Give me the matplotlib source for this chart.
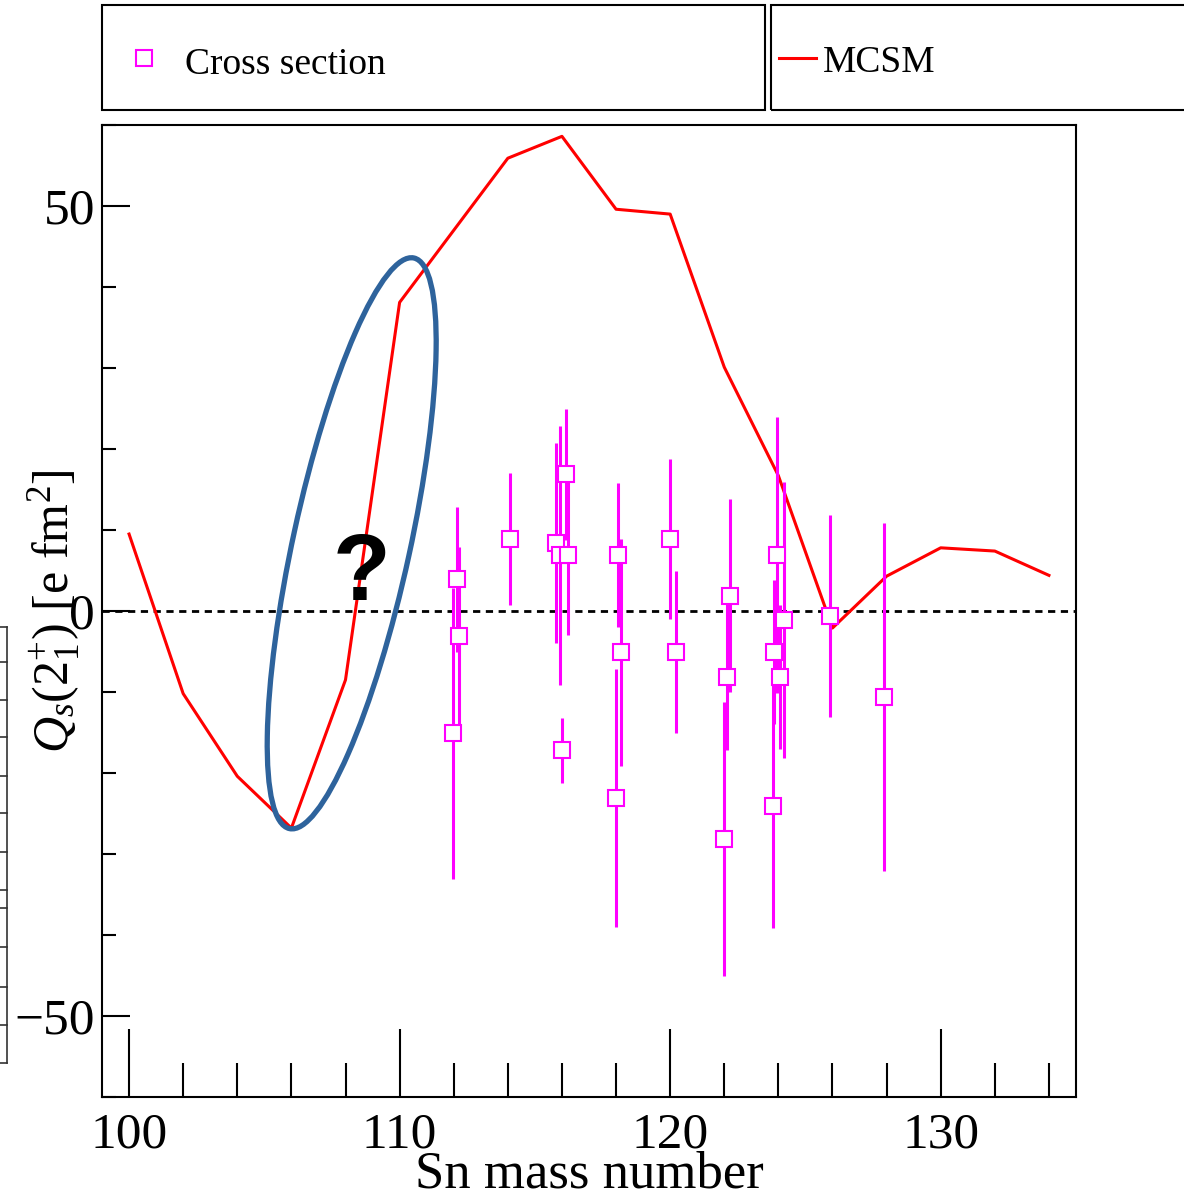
import matplotlib
matplotlib.use('Agg')
import matplotlib.pyplot as plt
from matplotlib.patches import Ellipse, Rectangle
from matplotlib.lines import Line2D
from matplotlib.ticker import MultipleLocator

# ---------------- data ----------------
mcsm_A = [100, 102, 104, 106, 108, 110, 112, 114, 116, 118, 120, 122, 124, 126, 128, 130, 132, 134]
mcsm_Q = [9.5, -10.2, -20.4, -26.8, -8.5, 38.1, 47.0, 55.9, 58.6, 49.6, 49.0, 30.1, 16.7, -2.1, 4.3, 7.8, 7.4, 4.4]

cs_A = [111.96, 112.11, 112.19,
        114.07,
        115.78, 116.15, 115.93, 116.22, 116.0,
        118.07, 118.19, 118.0,
        120.0, 120.22,
        122.22, 122.11, 122.0,
        123.96, 124.22, 123.85, 124.07, 123.8,
        125.89,
        127.89]
cs_Q = [-15.1, 3.9, -3.1,
        8.9,
        8.4, 16.9, 6.9, 6.9, -17.2,
        6.9, -5.1, -23.1,
        8.9, -5.1,
        1.9, -8.1, -28.1,
        6.9, -1.1, -5.1, -8.1, -24.1,
        -0.65,
        -10.6]
cs_err = [18.0, 9.0, 11.0,
          8.1,
          12.4, 8.1, 16.0, 9.9, 4.0,
          8.9, 14.0, 15.9,
          9.9, 10.0,
          11.9, 9.1, 16.9,
          17.0, 17.0, 8.9, 8.9, 15.0,
          12.45,
          21.5]

x_ticks = [100, 110, 120, 130]
y_ticks = [-50, 0, 50]

legend_labels = ["Cross section", "MCSM"]
x_title = "Sn mass number"
y_title = r"$Q_{s}(2^{+}_{1})$ [e fm$^{2}$]"

# ---------------- figure ----------------
W, H = 1184, 1191
plt.rcParams['font.family'] = ['Liberation Serif', 'DejaVu Serif']
plt.rcParams['mathtext.fontset'] = 'custom'
plt.rcParams['mathtext.rm'] = 'Liberation Serif'
plt.rcParams['mathtext.it'] = 'Liberation Serif:italic'
plt.rcParams['axes.unicode_minus'] = True

fig = plt.figure(figsize=(W / 100, H / 100), dpi=100)


def fx(px):
    return px / W


def fy(py):
    return 1 - py / H


ax = fig.add_axes([fx(102), fy(1097), fx(1076) - fx(102), fy(125) - fy(1097)])

ax.plot(mcsm_A, mcsm_Q, color='red', lw=2.2, zorder=3)
ax.axhline(0, color='black', lw=2.0, dashes=(2.6, 2.0), zorder=2)
ax.errorbar(cs_A, cs_Q, yerr=cs_err, fmt='s', color='magenta', ms=12,
            mfc='white', mec='magenta', mew=1.5, elinewidth=2.2, capsize=0, zorder=4)

ax.set_xlim(99, 135)
ax.set_ylim(-60, 60)
ax.set_xticks(x_ticks)
ax.set_yticks(y_ticks)
ax.xaxis.set_minor_locator(MultipleLocator(2))
ax.yaxis.set_minor_locator(MultipleLocator(10))
ax.tick_params(which='both', direction='in', top=False, right=False, width=1.5,
               color='black', labelsize=37)
ax.tick_params(axis='x', which='major', length=49, pad=11)
ax.tick_params(axis='x', which='minor', length=24.5)
ax.tick_params(axis='y', which='major', length=20, pad=5)
ax.tick_params(axis='y', which='minor', length=10)
for s in ax.spines.values():
    s.set_linewidth(1.5)

ax.set_xlabel(x_title, fontsize=38, va='baseline')
ax.xaxis.set_label_coords(0.5, -(1187 - 1097) / 972)
ax.set_ylabel(y_title, fontsize=36, rotation=90, rotation_mode='default',
              ha='center', va='center')
ax.yaxis.set_label_coords((54.5 - 102) / 974, 0.5)

# ---------------- legend boxes ----------------
fig.add_artist(Rectangle((fx(102), fy(110)), fx(765) - fx(102), fy(5) - fy(110),
                         transform=fig.transFigure, fill=False, lw=1.5, ec='black'))
fig.add_artist(Rectangle((fx(771), fy(110)), fx(1195) - fx(771), fy(5) - fy(110),
                         transform=fig.transFigure, fill=False, lw=1.5, ec='black'))
fig.add_artist(Line2D([fx(143.5)], [fy(57.5)], marker='s', ms=11.5, mfc='none',
                      mec='magenta', mew=1.5, transform=fig.transFigure))
fig.text(fx(185), fy(73.5), legend_labels[0], fontsize=27, va='baseline', ha='left')
fig.add_artist(Line2D([fx(779), fx(816)], [fy(57.7), fy(57.7)], color='red', lw=2.2,
                      transform=fig.transFigure))
fig.text(fx(823), fy(72.5), legend_labels[1], fontsize=27, va='baseline', ha='left')

# ---------------- annotation: ellipse and question mark ----------------
fig.add_artist(Ellipse((3.517, (H - 543.3) / 100), width=5.84, height=1.17, angle=77.7,
                       transform=fig.dpi_scale_trans, fill=False, ec='#2e639c', lw=3.8,
                       zorder=5))
fig.text(fx(361.7), fy(600), '?', fontsize=68, fontweight='bold', family='Liberation Sans',
         ha='center', va='baseline', color='black', zorder=6)

# ---------------- partial frame of a neighbouring pad at the left edge ----------------
fig.add_artist(Line2D([fx(7), fx(7)], [fy(627), fy(1063)], color='#333333', lw=1.2,
                      transform=fig.transFigure))
for yy in [627, 662, 700, 737, 776, 813, 852, 890, 908, 947, 987, 1025, 1063]:
    fig.add_artist(Line2D([fx(0), fx(7)], [fy(yy), fy(yy)], color='#333333', lw=1.2,
                          transform=fig.transFigure))

fig.savefig('out.png', dpi=100)
